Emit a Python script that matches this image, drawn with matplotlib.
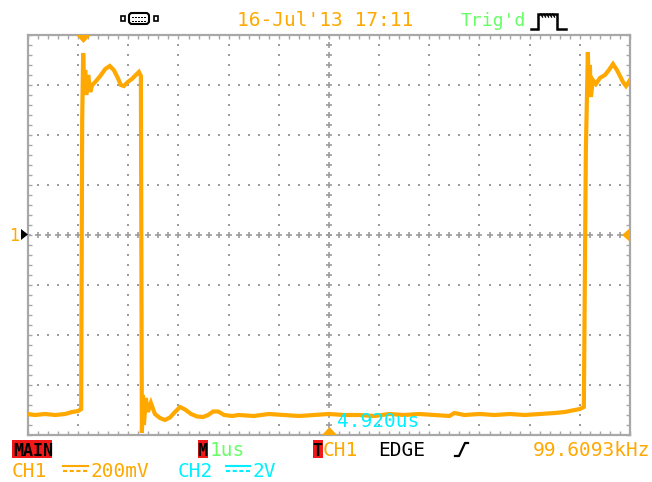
import matplotlib
matplotlib.use('Agg')
import matplotlib.pyplot as plt
import numpy as np
from matplotlib.patches import Polygon, Rectangle, FancyBboxPatch

# ---------------- data ----------------
us_per_div = 1.0
volts_per_div = 0.2
n_hdiv = 12
n_vdiv = 8

time_us = [-6.00, -5.86, -5.66, -5.46, -5.26, -5.12, -5.00, -4.94, -4.92, -4.90,
           -4.88, -4.86, -4.84, -4.80, -4.76, -4.72, -4.66, -4.56, -4.46, -4.37,
           -4.29, -4.21, -4.15, -4.09, -4.01, -3.93, -3.85, -3.79, -3.75, -3.73,
           -3.71, -3.69, -3.65, -3.61, -3.55, -3.47, -3.37, -3.27, -3.17, -3.07,
           -2.97, -2.87, -2.75, -2.63, -2.51, -2.41, -2.31, -2.21, -2.09, -1.93,
           -1.80, -1.50, -1.20, -0.90, -0.60, -0.30, 0.00, 0.30, 0.60, 0.90,
           1.20, 1.50, 1.80, 2.10, 2.40, 2.50, 2.70, 3.00, 3.30, 3.60,
           3.90, 4.20, 4.50, 4.70, 4.90, 5.00, 5.08, 5.12, 5.16, 5.18,
           5.20, 5.22, 5.26, 5.32, 5.40, 5.50, 5.58, 5.66, 5.74, 5.80,
           5.86, 5.92, 6.00]
ch1_v = [-0.716, -0.720, -0.716, -0.720, -0.716, -0.708, -0.704, -0.696, 0.46, 0.728,
         0.58, 0.66, 0.56, 0.64, 0.572, 0.60, 0.612, 0.636, 0.664, 0.676,
         0.66, 0.628, 0.60, 0.596, 0.612, 0.624, 0.64, 0.652, 0.636, -0.792,
         -0.64, -0.76, -0.652, -0.708, -0.672, -0.716, -0.732, -0.740, -0.730, -0.708,
         -0.688, -0.698, -0.716, -0.726, -0.728, -0.72, -0.706, -0.706, -0.72, -0.724,
         -0.72, -0.724, -0.716, -0.72, -0.724, -0.72, -0.716, -0.72, -0.72, -0.724,
         -0.716, -0.72, -0.716, -0.72, -0.724, -0.712, -0.72, -0.716, -0.72, -0.716,
         -0.72, -0.716, -0.712, -0.708, -0.70, -0.696, -0.688, 0.34, 0.732, 0.56,
         0.68, 0.552, 0.62, 0.604, 0.628, 0.64, 0.66, 0.684, 0.66, 0.636,
         0.612, 0.596, 0.62]

date_label = "16-Jul'13 17:11"
trig_label = "Trig'd"
mode_label = "MAIN"
timebase_label = "1us"
trig_src_label = "CH1"
trig_type_label = "EDGE"
freq_label = "99.6093kHz"
ch1_label, ch1_scale = "CH1", "200mV"
ch2_label, ch2_scale = "CH2", "2V"
cursor_label = "4.920us"
ch_marker_label = "1"

# ---------------- colours ----------------
ORANGE = '#FFA800'
GREEN = '#66FF66'
CYAN = '#00F0FF'
RED = '#F01818'
GRIDC = '#9C9C9C'
FRAMEC = '#A8A8A8'
MONO = 'DejaVu Sans Mono'

W, H, DPI = 652, 482, 100
fig = plt.figure(figsize=(W / DPI, H / DPI), dpi=DPI)
fig.patch.set_facecolor('white')

def px_axes(l, t, r, b):
    return fig.add_axes([l / W, 1 - b / H, (r - l) / W, (b - t) / H])

ax = px_axes(28, 35, 630, 435)
xmax = n_hdiv / 2 * us_per_div
ymax = n_vdiv / 2 * volts_per_div
ax.set_xlim(-xmax, xmax)
ax.set_ylim(-ymax, ymax)
ax.set_facecolor('white')

# frame ticks every 1/5 division
ax.set_xticks(np.arange(-xmax, xmax + 1e-9, us_per_div / 5))
ax.set_yticks(np.arange(-ymax, ymax + 1e-9, volts_per_div / 5))
ax.tick_params(which='both', direction='in', length=3, width=1, color=FRAMEC,
               top=True, right=True, labelbottom=False, labelleft=False)
for sp in ax.spines.values():
    sp.set_color(FRAMEC)
    sp.set_linewidth(1.6)

# dotted graticule
sub_y = np.arange(-ymax, ymax + 1e-9, volts_per_div / 5)
sub_x = np.arange(-xmax, xmax + 1e-9, us_per_div / 5)
for k in range(-n_hdiv // 2 + 1, n_hdiv // 2):
    if k == 0:
        continue
    ax.scatter(np.full_like(sub_y, k * us_per_div), sub_y, s=2.2, marker='s',
               color=GRIDC, linewidths=0, zorder=1)
for k in range(-n_vdiv // 2 + 1, n_vdiv // 2):
    if k == 0:
        continue
    ax.scatter(sub_x, np.full_like(sub_x, k * volts_per_div), s=2.2, marker='s',
               color=GRIDC, linewidths=0, zorder=1)
ax.plot(np.zeros_like(sub_y), sub_y, ls='none', marker='+', ms=4, mew=1.2,
        color=GRIDC, zorder=1)
ax.plot(sub_x, np.zeros_like(sub_x), ls='none', marker='+', ms=4, mew=1.2,
        color=GRIDC, zorder=1)

# trace
ax.plot(time_us, ch1_v, color=ORANGE, lw=3.0, zorder=3, solid_joinstyle='miter')

# ---------------- overlay (screen annotations) ----------------
ov = fig.add_axes([0, 0, 1, 1], zorder=10)
ov.set_xlim(0, W)
ov.set_ylim(H, 0)
ov.axis('off')
ov.patch.set_alpha(0)

def txt(x, y, s, color, size=14, **kw):
    ov.text(x, y, s, color=color, fontsize=size, family=MONO,
            ha='left', va='baseline', **kw)

# markers
ov.add_patch(Polygon([(76, 35), (91, 35), (83.5, 43)], closed=True, color=ORANGE, lw=0))
ov.add_patch(Polygon([(322, 435), (337, 435), (329.5, 427)], closed=True, color=ORANGE, lw=0))
ov.add_patch(Polygon([(630, 228), (630, 242), (622, 235)], closed=True, color=ORANGE, lw=0))
ov.add_patch(Polygon([(21, 229), (21, 240), (28, 234.5)], closed=True, color='black', lw=0))
txt(9, 241, ch_marker_label, ORANGE, size=12)

# serial icon
ov.add_patch(FancyBboxPatch((129, 13), 20, 11, boxstyle='round,pad=0,rounding_size=3',
                            fc='white', ec='black', lw=1.5))
for xx in np.arange(132, 147, 3):
    for yy in (16.5, 20.5):
        ov.add_patch(Rectangle((xx, yy), 1.5, 1.5, color='black', lw=0))
ov.add_patch(Rectangle((120.5, 16), 4, 5, fc='white', ec='black', lw=1.2))
ov.add_patch(Rectangle((153.5, 16), 4, 5, fc='white', ec='black', lw=1.2))

txt(237, 26, date_label, ORANGE)
txt(461, 26, trig_label, GREEN, size=13)

# pulse icon
ov.plot([531, 538, 538, 557, 557, 566], [29, 29, 14, 14, 29, 29], color='black', lw=1.8,
        solid_joinstyle='miter')
for xx in np.arange(541, 556, 3):
    ov.plot([xx, xx + 1.5], [14, 17], color='black', lw=1)

# bottom row 1
ov.add_patch(Rectangle((12, 440), 40, 18, color=RED, lw=0))
txt(13, 456, mode_label, 'black', size=12, fontweight='bold')
ov.add_patch(Rectangle((198, 440), 10, 18, color=RED, lw=0))
txt(197.5, 456, 'M', 'black', size=12, fontweight='bold')
txt(210, 456, timebase_label, GREEN)
ov.add_patch(Rectangle((313, 440), 10, 18, color=RED, lw=0))
txt(312.5, 456, 'T', 'black', size=12, fontweight='bold')
txt(323, 456, trig_src_label, ORANGE)
txt(378, 456, trig_type_label, 'black')
ov.plot([455, 459, 465, 468], [456, 456, 443, 443], color='black', lw=1.6)
txt(533, 456, freq_label, ORANGE)

# bottom row 2
txt(12, 477, ch1_label, ORANGE)
ov.plot([63, 88], [466, 466], color=ORANGE, lw=1.5)
ov.plot([63, 88], [471, 471], color=ORANGE, lw=1.5, ls=(0, (2, 1.2)))
txt(90, 477, ch1_scale, ORANGE)
txt(178, 477, ch2_label, CYAN)
ov.plot([226, 250], [466, 466], color=CYAN, lw=1.5)
ov.plot([226, 250], [471, 471], color=CYAN, lw=1.5, ls=(0, (2, 1.2)))
txt(252, 477, ch2_scale, CYAN)

# cursor readout
txt(337, 427, cursor_label, CYAN)

fig.savefig('out.png', dpi=DPI, facecolor='white')
